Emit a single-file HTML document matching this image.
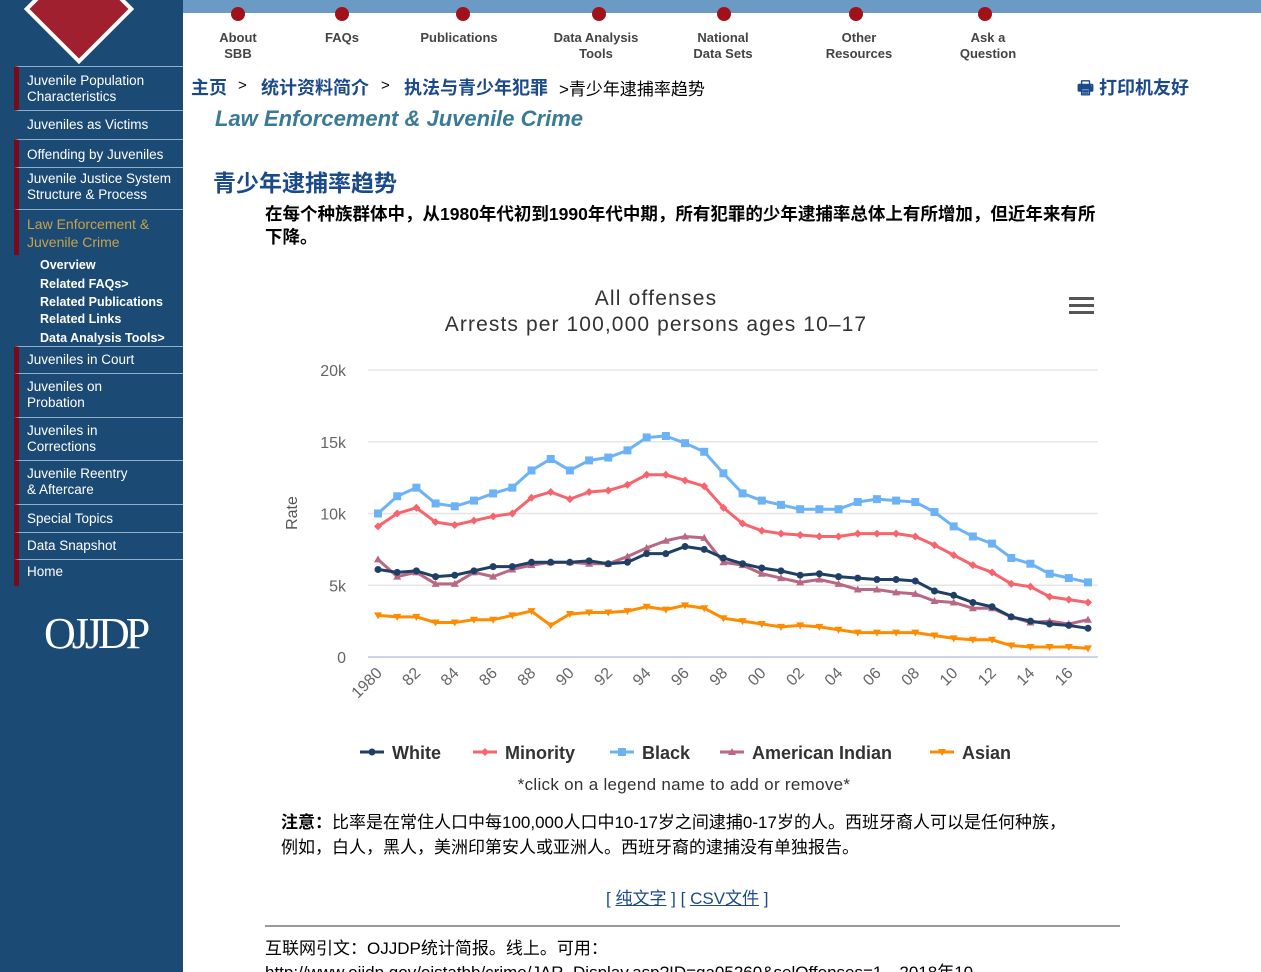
<!DOCTYPE html>
<html><head><meta charset="utf-8">
<style>
html,body{margin:0;width:1261px;height:972px;overflow:hidden}
body{background:#fff;font-family:"Liberation Sans","Noto Sans CJK SC",sans-serif;position:relative}
#side{position:absolute;left:0;top:0;width:183px;height:972px;background:#1b4a74}
.top{position:absolute;left:0;top:0;width:1261px;height:13px;background:#6b9ac4}
.si{position:absolute;left:14px;width:169px;border-top:1px solid #8fb0cc;color:#fff;font-size:13.5px;line-height:16px;padding-left:8px;box-sizing:border-box;border-left:5px solid #7a0a1a}
.sub{position:absolute;left:40px;color:#fff;font-size:12.5px;font-weight:bold;line-height:18px}
.nav{position:absolute;top:30px;text-align:center;font-size:13px;font-weight:bold;color:#444;line-height:16px;width:100px}
.dot{position:absolute;top:7px;width:14px;height:14px;border-radius:50%;background:#a0111a}
.bc{position:absolute;top:74px;font-size:18px;color:#1b4a8a;font-weight:bold}
</style></head><body>
<div class="top"></div>
<div id="side">
<div style="position:absolute;left:40px;top:-30px;width:70px;height:70px;transform:rotate(45deg);background:#a02030;border:4px solid #fff"></div>
<div class="si" style="top:66px;height:44px;padding-top:6px">Juvenile Population Characteristics</div>
<div class="si" style="top:110px;height:28px;padding-top:6px;border-left-color:#1b4a74">Juveniles as Victims</div>
<div class="si" style="top:139px;height:28px;padding-top:7px">Offending by Juveniles</div>
<div class="si" style="top:167px;height:42px;padding-top:3px">Juvenile Justice System Structure &amp; Process</div>
<div class="si" style="top:209px;height:46px;padding-top:5px;color:#c8a24a;font-size:14px;line-height:18px">Law Enforcement &amp; Juvenile Crime</div>
<div class="sub" style="top:256px">Overview</div>
<div class="sub" style="top:275px">Related FAQs&gt;</div>
<div class="sub" style="top:293px">Related Publications</div>
<div class="sub" style="top:310px">Related Links</div>
<div class="sub" style="top:329px">Data Analysis Tools&gt;</div>
<div class="si" style="top:346px;height:27px;padding-top:5px">Juveniles in Court</div>
<div class="si" style="top:373px;height:44px;padding-top:5px">Juveniles on<br>Probation</div>
<div class="si" style="top:417px;height:43px;padding-top:5px">Juveniles in<br>Corrections</div>
<div class="si" style="top:460px;height:44px;padding-top:5px">Juvenile Reentry<br>&amp; Aftercare</div>
<div class="si" style="top:504px;height:28px;padding-top:6px">Special Topics</div>
<div class="si" style="top:532px;height:27px;padding-top:5px">Data Snapshot</div>
<div class="si" style="top:559px;height:27px;padding-top:4px">Home</div>
<div style="position:absolute;left:44px;top:608px;color:#fff;font-family:'Liberation Serif',serif;font-size:44px;letter-spacing:-4px">OJJDP</div>
</div>

<div class="dot" style="left:231px"></div><div class="nav" style="left:188px">About<br>SBB</div>
<div class="dot" style="left:335px"></div><div class="nav" style="left:292px">FAQs</div>
<div class="dot" style="left:456px"></div><div class="nav" style="left:409px">Publications</div>
<div class="dot" style="left:592px"></div><div class="nav" style="left:546px">Data Analysis<br>Tools</div>
<div class="dot" style="left:717px"></div><div class="nav" style="left:673px">National<br>Data Sets</div>
<div class="dot" style="left:849px"></div><div class="nav" style="left:809px">Other<br>Resources</div>
<div class="dot" style="left:978px"></div><div class="nav" style="left:938px">Ask a<br>Question</div>

<div class="bc" style="left:191px">主页</div>
<div class="bc" style="left:238px;color:#000;font-weight:normal;font-size:15px;top:77px">&gt;</div>
<div class="bc" style="left:261px">统计资料简介</div>
<div class="bc" style="left:381px;color:#000;font-weight:normal;font-size:15px;top:77px">&gt;</div>
<div class="bc" style="left:404px">执法与青少年犯罪</div>
<div class="bc" style="left:559px;color:#000;font-weight:normal;font-size:17px;top:75px">&gt;青少年逮捕率趋势</div>
<div class="bc" style="left:1077px;color:#1b4a8a">🖶 打印机友好</div>
<div style="position:absolute;left:215px;top:106px;font-size:22px;font-style:italic;font-weight:bold;color:#3a7a96">Law Enforcement &amp; Juvenile Crime</div>
<div style="position:absolute;left:213px;top:164px;font-size:23px;font-weight:bold;color:#1b4a8a">青少年逮捕率趋势</div>
<div style="position:absolute;left:265px;top:203px;width:840px;font-size:17.5px;font-weight:bold;line-height:23px">在每个种族群体中，从1980年代初到1990年代中期，所有犯罪的少年逮捕率总体上有所增加，但近年来有所下降。</div>

<svg id="chart" style="position:absolute;left:0;top:0" width="1261" height="972">
<text x="656" y="305" text-anchor="middle" font-size="21" letter-spacing="1.2" fill="#333">All offenses</text>
<text x="656" y="331" text-anchor="middle" font-size="21" letter-spacing="1.1" fill="#333">Arrests per 100,000 persons ages 10–17</text>
<g><rect x="1069" y="297" width="25" height="3" fill="#555"/><rect x="1069" y="304" width="25" height="3" fill="#555"/><rect x="1069" y="311" width="25" height="3" fill="#555"/></g>
<text transform="translate(297,513) rotate(-90)" text-anchor="middle" font-size="16" fill="#555">Rate</text>
<g id="grid"></g><g id="series"></g>
<g id="legend"></g>
<text x="684" y="790" text-anchor="middle" font-size="17" letter-spacing="0.3" fill="#333">*click on a legend name to add or remove*</text>
</svg>

<div style="position:absolute;left:281px;top:810px;width:800px;font-size:17px;line-height:25px"><b>注意：</b>比率是在常住人口中每100,000人口中10-17岁之间逮捕0-17岁的人。西班牙裔人可以是任何种族，例如，白人，黑人，美洲印第安人或亚洲人。西班牙裔的逮捕没有单独报告。</div>
<div style="position:absolute;left:606px;top:884px;font-size:17px;color:#1b4a8a">[ <u>纯文字</u> ] [ <u>CSV文件</u> ]</div>
<div style="position:absolute;left:265px;top:925px;width:855px;border-top:2px solid #999"></div>
<div style="position:absolute;left:265px;top:937px;font-size:17px;line-height:24px;white-space:nowrap">互联网引文：OJJDP统计简报。线上。可用：<br>http://www.ojjdp.gov/ojstatbb/crime/JAR_Display.asp?ID=qa05260&amp;selOffenses=1。2018年10</div>

<script>
const years=[];for(let y=1980;y<=2017;y++)years.push(y);
const yTicks=[0,5000,10000,15000,20000];
const yTickLabels=["0","5k","10k","15k","20k"];
const seriesNames=["White","Minority","Black","American Indian","Asian"];
const white=[6.1,5.9,6.0,5.6,5.7,6.0,6.3,6.3,6.6,6.6,6.6,6.7,6.5,6.6,7.2,7.2,7.7,7.5,6.9,6.5,6.2,6.0,5.7,5.8,5.6,5.5,5.4,5.4,5.3,4.6,4.3,3.8,3.5,2.8,2.5,2.3,2.2,2.0];
const minority=[9.1,10.0,10.4,9.4,9.2,9.5,9.8,10.0,11.1,11.5,11.0,11.5,11.6,12.0,12.7,12.7,12.3,11.9,10.4,9.3,8.8,8.6,8.5,8.4,8.4,8.6,8.6,8.6,8.4,7.8,7.1,6.4,5.9,5.1,4.9,4.2,4.0,3.8];
const black=[10.0,11.2,11.8,10.7,10.5,10.9,11.4,11.8,13.0,13.8,13.0,13.7,13.9,14.4,15.3,15.4,14.9,14.3,12.8,11.4,10.9,10.6,10.3,10.3,10.3,10.8,11.0,10.9,10.8,10.1,9.1,8.4,7.9,6.9,6.5,5.8,5.5,5.2];
const amIndian=[6.8,5.6,5.9,5.1,5.1,5.9,5.6,6.1,6.4,6.6,6.6,6.5,6.5,7.0,7.6,8.1,8.4,8.3,6.6,6.4,5.8,5.5,5.2,5.4,5.1,4.7,4.7,4.5,4.4,3.9,3.8,3.4,3.4,2.8,2.4,2.5,2.3,2.6];
const asian=[2.9,2.8,2.8,2.4,2.4,2.6,2.6,2.9,3.2,2.2,3.0,3.1,3.1,3.2,3.5,3.3,3.6,3.4,2.7,2.5,2.3,2.1,2.2,2.1,1.9,1.7,1.7,1.7,1.7,1.5,1.3,1.2,1.2,0.8,0.7,0.7,0.7,0.6];

const NS="http://www.w3.org/2000/svg";
const X0=378,X1=1088,Y0=657,Y1=370,YMAX=20000;
const xs=i=>X0+(X1-X0)*i/(years.length-1);
const ys=v=>Y0-(Y0-Y1)*v/YMAX;
function mk(tag,at,parent){const e=document.createElementNS(NS,tag);for(const k in at)e.setAttribute(k,at[k]);parent.appendChild(e);return e;}
const grid=document.getElementById('grid'),ser=document.getElementById('series'),leg=document.getElementById('legend');
yTicks.forEach((t,i)=>{
  const l=mk('line',{x1:368,x2:1098,y1:ys(t),y2:ys(t),stroke:i==0?'#ccd6eb':'#e6e6e6','stroke-width':i==0?2:1.5},grid);
  
  
  const tx=mk('text',{x:346,y:ys(t)+6,'text-anchor':'end','font-size':16,fill:'#666'},grid);
  tx.textContent=yTickLabels[i];
  
  
});
years.forEach((y,i)=>{
  if(i%2)return;
  const lab=i==0?'1980':String(y%100).padStart(2,'0');
  const tx=mk('text',{transform:`translate(${xs(i)+5},${674}) rotate(-45)`,'text-anchor':'end','font-size':16,fill:'#666'},grid);
  tx.textContent=lab;
  
  
});
const colors=['#1f4066','#f7646d','#6cb2f7','#b86882','#ff8c00'];
const datas=[white,minority,black,amIndian,asian];
const shapes=['circle','diamond','square','triangle','tdown'];
function marker(shape,x,y,c,p){
  let e;
  if(shape=='circle')e=mk('circle',{cx:x,cy:y,r:3.5,fill:c},p);
  else if(shape=='square')e=mk('rect',{x:x-4,y:y-4,width:8,height:8,fill:c},p);
  else if(shape=='diamond')e=mk('path',{d:`M${x},${y-4}L${x+4},${y}L${x},${y+4}L${x-4},${y}Z`,fill:c},p);
  else if(shape=='triangle')e=mk('path',{d:`M${x},${y-4}L${x+4},${y+3}L${x-4},${y+3}Z`,fill:c},p);
  else e=mk('path',{d:`M${x},${y+4}L${x+4},${y-3}L${x-4},${y-3}Z`,fill:c},p);
  return e;
}
[4,3,2,1,0].forEach(s=>{
  const g=mk('g',{},ser);
  
  
  const d=datas[s].map((v,i)=>(i?'L':'M')+xs(i)+','+ys(v*1000)).join('');
  mk('path',{d:d,fill:'none',stroke:colors[s],'stroke-width':3,'stroke-linejoin':'round'},g);
  datas[s].forEach((v,i)=>{
    const m=marker(shapes[s],xs(i),ys(v*1000),colors[s],g);
    
    
  });
});
const legX=[360,473,610,720,930];
seriesNames.forEach((n,s)=>{
  const g=mk('g',{style:'cursor:pointer'},leg);
  
  
  const x=legX[s];
  mk('line',{x1:x,x2:x+24,y1:752,y2:752,stroke:colors[s],'stroke-width':3},g);
  marker(shapes[s],x+12,752,colors[s],g);
  const t=mk('text',{x:x+32,y:759,'font-size':18,'font-weight':'bold',fill:'#333'},g);
  t.textContent=n;
});
</script>
</body></html>
